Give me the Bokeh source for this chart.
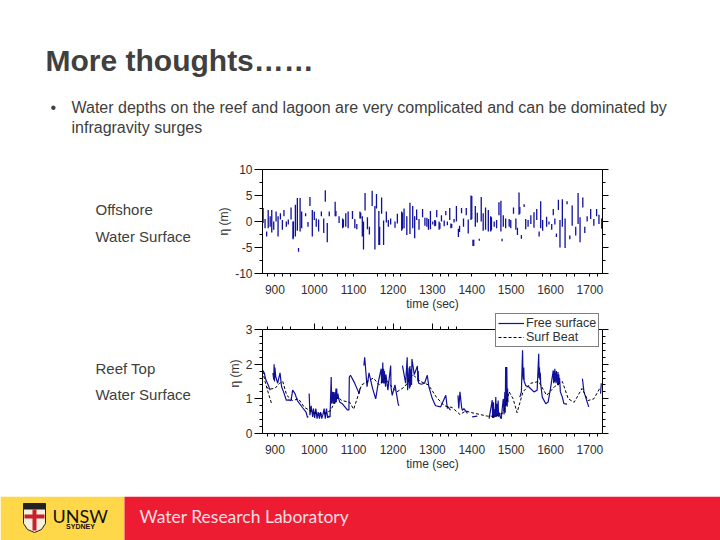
from bokeh.core.properties import value
from bokeh.embed import file_html
from bokeh.layouts import column, row
from bokeh.models import FixedTicker, Legend, LegendItem, LinearAxis, Range1d
from bokeh.plotting import figure
from bokeh.resources import INLINE

nan = float('nan')

title = 'More thoughts……'
bullet_lines = ['Water depths on the reef and lagoon are very complicated and can be dominated by',
                'infragravity surges']
x_tick_labels = [900, 1000, 1100, 1200, 1300, 1400, 1500, 1600, 1700]
x_top_major = [1000, 1200, 1300, 1500, 1600, 1700]
x_minor = [880, 920, 940, 1020, 1060, 1080, 1160, 1180, 1220, 1320, 1340, 1360,
           1460, 1480, 1540, 1580, 1640, 1660, 1720]

# offshore surface, broken into strokes by the screen resolution of the original
off_t = [870, 875, 879, 883, 888, 892, 897, 903, 908, 914, 919, 923, 929, 934, 941, 946, 947, 952, 957, 960,
         964, 968, 978, 984, 989, 995, 1000, 1005, 1011, 1018, 1024, 1028, 1033, 1038, 1053, 1055, 1063, 1072,
         1074, 1080, 1086, 1097, 1103, 1108, 1116, 1118, 1122, 1125, 1129, 1135, 1140, 1147, 1154, 1158, 1164,
         1166, 1171, 1176, 1183, 1188, 1194, 1205, 1211, 1222, 1224, 1228, 1235, 1243, 1250, 1255, 1260, 1266,
         1275, 1281, 1286, 1290, 1295, 1301, 1306, 1308, 1311, 1317, 1319, 1323, 1330, 1334, 1338, 1344, 1347,
         1349, 1355, 1361, 1366, 1369, 1374, 1379, 1386, 1391, 1398, 1400, 1403, 1405, 1409, 1414, 1419, 1424,
         1429, 1435, 1442, 1448, 1450, 1457, 1463, 1469, 1474, 1477, 1480, 1486, 1495, 1499, 1506, 1512, 1516,
         1520, 1522, 1526, 1533, 1537, 1543, 1550, 1558, 1565, 1571, 1575, 1580, 1590, 1596, 1603, 1607, 1611,
         1615, 1620, 1624, 1630, 1637, 1642, 1649, 1655, 1664, 1670, 1675, 1682, 1687, 1693, 1702, 1710, 1717,
         1723, 1730]
off_high = [2.6, 0.5, -1.9, 2.2, 1, 2.2, 0, 1.9, 1, 1.6, 0.3, 2.2, 0, 0.4, 2.7, 0, 0, 3.2, 4.5, -5.1,
            4.5, 1.9, 1.6, -0.1, 4.7, 2.2, 1.9, 0.6, 0.4, 1.9, 0.6, 6, -0.3, 1.9, 3.8, 2, 1, 0.6,
            0.4, 1.6, 1.9, 2, 0.5, -0.5, 1.9, 1.7, 1, 0, 5.5, 0.8, -1, 5.9, 3, 5.3, 2,
            -1, 4.6, 0.2, 1.9, 0.3, 0.6, 0, 1.5, 1.9, 1.7, 2.5, 1, 3.6, 3, 1, 2.3, 0.5,
            2.4, 0.7, 0.7, 0.5, 2, 0, 0.3, 0.2, 2.2, 0, -0.3, 1.2, 0.2, 2, 0, 2.6, -0.4,
            -0.5, 0.5, 3, -1.4, -0.8, 2.6, 0.6, 2.6, 0.4, 5, 4.9, -3.5, -3.5, 3, 1.7, -3.3, 4.7,
            1.6, 2.7, 2.2, 1, 0.8, 0, 0.3, 3.7, 4, -3.3, 1.2, 0.6, 0.5, 0.3, 2.7, 0.6, -1.2,
            5.6, 2.8, -2.6, 3.3, 0.5, 0.3, 1.2, 1.8, 2.4, -1.9, 3.9, 0.3, 0.9, 0, -0.5, 2.4, 0.6,
            -2.3, 4.2, 0.3, 4.3, 0.6, 3.9, -2.7, 3.1, -1, 5.5, 0.8, 4.6, -1, 1, 2.4, 0.5, 2.4,
            1.3, 0.6]
off_low = [-0.3, -1.3, -2.9, -1.3, -1, -2.1, -1.6, 0, -2.9, 0.4, -1.6, 1, -1, -0.6, 0.4, -3.4, -3.2, -2.9, -1.8, -5.8,
           -1.9, -1.3, 1, -1, 3, -2.9, 0.3, -1, -1.9, 1, -2.2, 3.8, -4, 1, 1, 1, -0.3, -1.3,
           -1.1, -1, -1.3, 0.5, -1.3, -1.5, 0.6, 0.6, -2.9, -5.4, 2.1, -1.5, -2.5, 3, -5.4, 2.5, -4.5,
           -4.5, 1.5, -4.5, -0.2, -1, -0.6, -1.2, -0.4, -1.8, -1.5, -1.3, -2.6, -2.4, -1.3, -3.2, 0.3, -1.6,
           0.8, -0.8, -1, -1.6, -1.5, -0.6, -0.9, -0.8, 0.8, -1.6, -1.4, 0, -0.9, 1.2, -0.7, 0.3, -1.3,
           -1.2, -0.2, 0, -3, -2, 1.6, -1, 1.2, -2.3, 0.3, 0.5, -4.7, -4.7, -1, -0.2, -3.7, 0,
           -1.8, -1.6, -1.9, -1.9, -1.7, -1, -1.3, 1.2, -1.9, -3.8, -1, -1.3, -1, -1.3, 1.5, -1.6, -2.6,
           1.3, 1.5, -3.3, 2.8, -1.5, -1, -0.5, -1.2, 0.3, -2.9, -1.3, -1.8, -1, -0.6, -1.6, 1.2, -0.6,
           -3, 2.2, -5, -1, -5.1, 3.3, -3.4, -0.8, -2.7, -0.5, -4, 2.7, -2.2, 0, 0.5, -0.8, 1,
           -0.5, -1.4]

# reef top free surface, nan where the original trace breaks up
reef_t = [869, 873, 877, 883, 888, nan,
          895, 897, 898, 899, 900, 902, 907, 913, 917, 922, 929, 935, 941, 945, 951, 957, 970, 979, 983, 984, nan,
          987, 989, 992, 996, 998, 1001, 1004, 1007, 1010, 1013, 1016, 1019, 1022, 1025, 1028, 1031, 1034, 1037, 1040,
          1043, 1044, 1046, 1048, 1049, 1050, 1051, 1052, 1053, 1054, 1055, 1056, 1057, 1058, 1060, 1062, 1065, 1072,
          1084, 1088, 1089, 1092, 1101, 1114, 1116, nan,
          1126, 1128, 1134, 1139, 1148, 1156, 1163, 1170, 1171, 1172, 1173, 1174, 1175, 1176, 1177, 1178, 1181, 1182,
          1187, 1194, 1195, 1198, 1205, 1213, 1215, nan,
          1224, 1232, 1236, 1237, 1241, 1242, 1243, 1244, 1245, 1247, 1248, 1254, 1262, 1263, 1264, 1265, 1272, 1280,
          1287, 1291, 1296, 1300, 1308, 1321, 1334, 1338, 1340, 1346, 1351, nan,
          1365, 1367, 1370, 1374, 1376, 1380, 1389, 1393, nan,
          1401, 1414, 1430, nan,
          1444, 1452, 1453, 1455, 1456, 1458, 1459, 1461, 1462, 1464, 1465, 1467, 1468, 1470, 1473,
          1475, 1478, 1480, 1482, 1484, 1485, 1486, 1487, 1488, 1489, 1490, 1491, 1492, 1493, nan,
          1522, 1526, 1529, 1530, 1531, 1532, 1533, 1534, 1537, 1545, 1558, 1566, 1570, 1571, 1572, 1573, 1574, 1575,
          1579, 1588, 1594, 1600, 1607, 1608, 1609, 1610, 1611, 1612, 1613, 1614, 1615, 1616, 1617, 1618,
          1619, 1620, 1621, 1622, 1623, 1625, 1630, 1634, 1642, 1647, nan,
          1681, 1685, 1697, 1706, nan,
          1727, 1729, 1730]
reef_v = [1.82, 1.75, 1.55, 1.4, 1.25, nan,
          1.75, 1.55, 2.0, 1.5, 1.9, 1.65, 1.45, 1.75, 1.35, 1.2, 0.96, 0.97, 0.95, 1.25, 1.15, 0.95, 0.75, 0.62, 0.46, 0.5, nan,
          1.15, 0.53, 0.8, 0.48, 0.72, 0.45, 0.72, 0.43, 0.62, 0.43, 0.62, 0.43, 0.55, 0.72, 0.43, 0.72, 0.45, 0.5, 0.48,
          1.63, 0.86, 1.2, 0.87, 1.2, 0.86, 1.15, 0.86, 1.2, 0.9, 1.3, 0.9, 1.3, 1.0, 1.15, 1.0, 0.9, 0.85,
          0.68, 0.68, 1.63, 1.68, 1.49, 1.15, 1.3, nan,
          1.96, 2.2, 1.35, 1.75, 1.3, 1.0, 1.5, 1.87, 1.44, 1.85, 1.47, 2.05, 1.45, 1.87, 1.44, 1.8, 1.35, 1.7,
          1.25, 1.96, 1.32, 1.1, 1.4, 0.86, 0.8, nan,
          1.96, 1.45, 2.2, 1.25, 1.9, 1.3, 1.95, 1.35, 1.85, 1.4, 2.15, 1.7, 1.95, 1.5, 1.8, 1.45, 1.42, 1.45,
          1.68, 1.35, 1.15, 1.0, 0.8, 0.77, 1.1, 0.72, 0.77, 0.67, nan,
          0.72, 1.1, 0.72, 1.2, 0.77, 0.67, 0.72, 0.58, nan,
          0.53, 0.48, 0.5, nan,
          0.48, 0.43, 0.96, 0.45, 0.9, 0.45, 0.7, 0.48, 1.05, 0.48, 0.86, 0.5, 0.95, 0.48, 0.6,
          0.45, 0.43, 0.8, 1.0, 0.55, 1.2, 0.6, 1.92, 0.8, 1.5, 1.92, 0.77, 1.3, 0.9, nan,
          0.9, 1.05, 1.2, 2.4, 1.7, 1.55, 1.9, 1.5, 1.48, 1.38, 1.34, 1.2, 1.25, 2.3, 1.6, 1.9, 1.55, 1.75,
          1.44, 1.05, 0.86, 0.91, 1.3, 1.82, 1.45, 1.8, 1.48, 1.87, 1.5, 1.75, 1.45, 1.8, 1.5, 1.7,
          1.4, 1.77, 1.39, 1.7, 1.45, 1.6, 1.2, 1.05, 0.86, 0.85, nan,
          1.92, 1.58, 1.2, 0.77, nan,
          1.5, 1.15, 1.45]

beat_t = [869, 875, 885, 892, nan, 878, 885, 900, 912, 920, 930, 945, 960, 975, 1000, 1020, 1040, 1060, 1070, 1090,
          1100, 1120, 1135, 1150, 1165, 1180, 1200, 1210, 1230, 1250, 1270, 1290, 1310, 1330, 1350, 1370, 1385, 1400,
          1420, 1440, 1460, 1480, 1495, 1505, 1515, 1530, 1550, 1570, 1590, 1610, 1630, 1645, 1660, 1680, 1695, 1710,
          1725]
beat_v = [1.8, 1.5, 1.1, 0.85, nan, 1.35, 1.28, 1.3, 1.45, 1.5, 1.1, 0.95, 1.0, 0.75, 0.6, 0.55, 0.65, 1.05, 0.95, 0.9,
          0.7, 1.4, 1.5, 1.6, 1.4, 1.6, 1.3, 1.2, 1.35, 1.7, 1.5, 1.4, 1.05, 0.8, 0.75, 0.55, 0.65, 0.6,
          0.55, 0.5, 0.5, 0.6, 1.2, 1.0, 0.6, 1.2, 1.45, 1.5, 1.1, 1.35, 1.5, 1.0, 0.9, 1.3, 0.95, 1.0,
          1.3]


def panel(x0, x1, h, y0, y1):
    # plain sheet measured in page pixels, for the parts of the slide that are not charts.
    # y0, y1 are the page rows the sheet's frame covers; in a row it lines up with the chart's frame
    p = figure(width=x1 - x0, height=h, x_range=Range1d(x0, x1), y_range=Range1d(y1, y0),
               x_axis_location=None, y_axis_location=None, output_backend="svg",
               toolbar_location=None, min_border=0, outline_line_color=None)
    p.xgrid.visible = False
    p.ygrid.visible = False
    return p


def words(p, x, y, s, size, color='#404040', style='normal', font='Liberation Sans', align='left'):
    p.text(x=[x], y=[y], text=[s], text_font=value(font), text_font_size=value(size), text_color=color,
           text_font_style=style, text_baseline='middle', text_align=align)


def ticks(a, major, minor=3):
    a.major_tick_in = 0
    a.major_tick_out = major
    a.minor_tick_in = 0
    a.minor_tick_out = minor


def blank(a, where):
    a.major_label_overrides = {t: '' for t in where}


def chart(h, ymin, ymax, frame_top, y_major, y_minor, top, bottom):
    p = figure(width=510, height=h, x_range=Range1d(868.5, 1732), y_range=Range1d(ymin, ymax),
               x_axis_location=None, y_axis_location=None, output_backend="svg", toolbar_location=None,
               min_border_left=52, min_border_right=118, min_border_top=top, min_border_bottom=bottom,
               outline_line_color=None)
    p.xgrid.visible = False
    p.ygrid.visible = False

    b = LinearAxis(ticker=FixedTicker(ticks=x_tick_labels, minor_ticks=x_minor), axis_label='time (sec)')
    ticks(b, 3)
    b.major_label_standoff = 8
    b.axis_label_standoff = 0
    t = LinearAxis(ticker=FixedTicker(ticks=x_top_major, minor_ticks=x_minor), fixed_location=frame_top)
    ticks(t, 6)
    blank(t, x_top_major)
    l = LinearAxis(ticker=FixedTicker(ticks=y_major, minor_ticks=y_minor), axis_label='η (m)',
                   bounds=(ymin, frame_top))
    ticks(l, 8)
    l.major_label_standoff = 2
    l.axis_label_standoff = 1
    l.major_label_overrides = {v: str(v) for v in y_major}
    r = LinearAxis(ticker=FixedTicker(ticks=y_major, minor_ticks=y_minor), bounds=(ymin, frame_top))
    ticks(r, 6)
    blank(r, y_major)
    for a in (b, l):
        a.major_label_text_font = 'Liberation Sans'
        a.major_label_text_font_size = '12px'
        a.major_label_text_color = '#303030'
        a.axis_label_text_font = 'Liberation Sans'
        a.axis_label_text_font_size = '12px'
        a.axis_label_text_font_style = 'normal'
        a.axis_label_text_color = '#303030'
    p.add_layout(b, 'below')
    p.add_layout(t, 'above')
    p.add_layout(l, 'left')
    p.add_layout(r, 'right')
    return p


header = panel(0, 720, 155, 0, 155)
words(header, 45, 60, title, '30px', style='bold')
words(header, 50, 107, '•', '16px')
words(header, 71, 107, bullet_lines[0], '16px')
words(header, 71, 127, bullet_lines[1], '16px')

left1 = panel(0, 210, 158, 169, 273)
words(left1, 95, 209, 'Offshore', '15px')
words(left1, 95, 236, 'Water Surface', '15px')

left2 = panel(0, 210, 183, 313, 433)
words(left2, 95, 368, 'Reef Top', '15px')
words(left2, 95, 394, 'Water Surface', '15px')

c1 = chart(158, -10, 10, 10, [-10, -5, 0, 5, 10], [-7.5, -2.5, 2.5, 7.5], 14, 40)
c1.outline_line_color = 'black'
c1.segment(x0=off_t, y0=off_low, x1=off_t, y1=off_high, line_color='#10109a', line_width=1.3)

# the top of this chart's frame runs past 3 m so that the legend can sit over the upper edge
c2 = chart(183, 0, 3.4615, 3, [0, 1, 2, 3], [0.2, 0.4, 0.6, 0.8, 1.2, 1.4, 1.6, 1.8, 2.2, 2.4, 2.6, 2.8], 0, 63)
free_line = c2.line(reef_t, reef_v, line_color='#10109a', line_width=1.2)
beat_line = c2.line(beat_t, beat_v, line_color='black', line_width=1, line_dash=[3, 2])
lg = Legend(items=[LegendItem(label='Free surface', renderers=[free_line]),
                   LegendItem(label='Surf Beat', renderers=[beat_line])],
            location=(233, 86), padding=2, margin=0, spacing=0, glyph_width=26, glyph_height=14,
            label_standoff=2, border_line_color='black', border_line_width=1,
            label_text_font='Liberation Sans', label_text_font_size='12.5px', label_text_color='#303030',
            background_fill_alpha=1)
c2.add_layout(lg)

footer = panel(0, 720, 44, 496, 540)
footer.quad(left=[0], right=[124], top=[496], bottom=[540], fill_color='#FFD84A', line_color=None)
footer.quad(left=[124], right=[720], top=[496], bottom=[540], fill_color='#EE1C33', line_color=None)
footer.patch(x=[23, 45, 45, 41, 34, 27, 23], y=[503, 503, 523, 529, 532, 529, 523],
             fill_color='#f4f0e0', line_color='#222222', line_width=1)
footer.quad(left=[23], right=[45], top=[503], bottom=[509], fill_color='#222222', line_color=None)
footer.quad(left=[32, 24], right=[36, 44], top=[509, 514], bottom=[530, 518], fill_color='#c8202c', line_color=None)
words(footer, 52, 515, 'UNSW', '18px', color='#111111', font='Lato')
words(footer, 80, 526, 'SYDNEY', '7px', color='#111111', style='bold', align='center')
words(footer, 139, 516, 'Water Research Laboratory', '17.5px', color='#fbdfe2', font='Lato')

page = column(header, row(left1, c1), row(left2, c2), footer)
open("out.html", "w").write(file_html(page, INLINE))
